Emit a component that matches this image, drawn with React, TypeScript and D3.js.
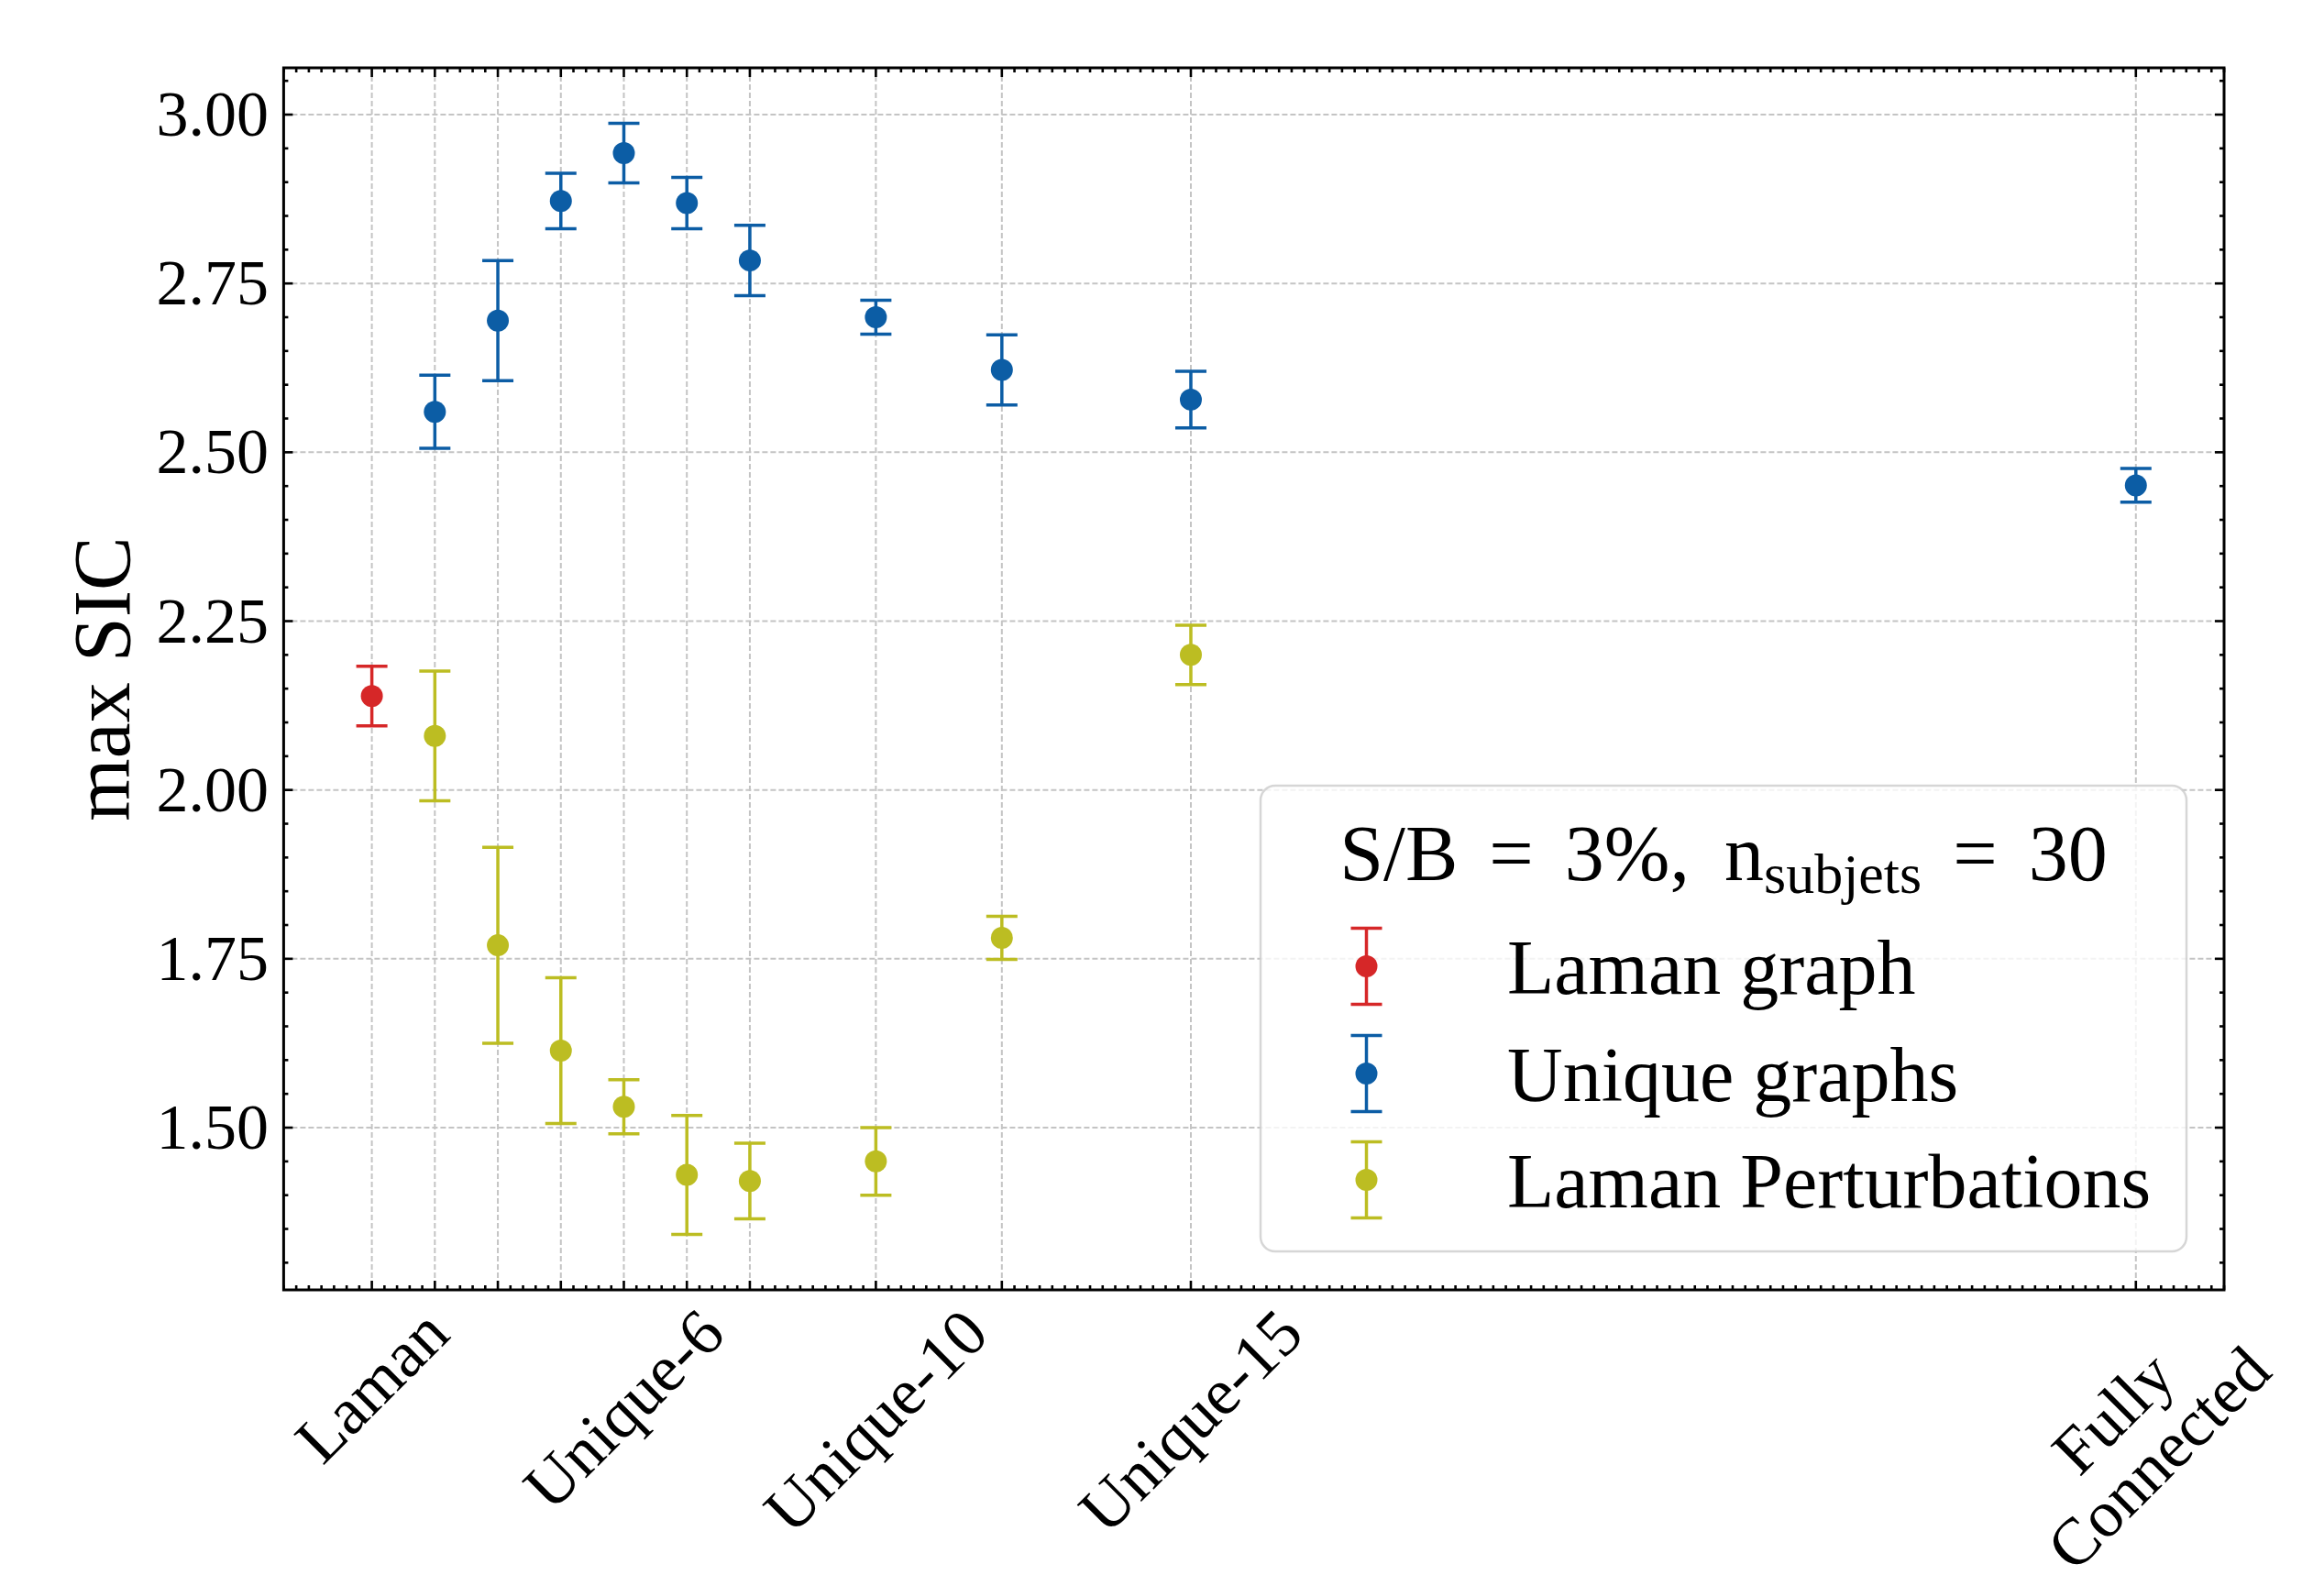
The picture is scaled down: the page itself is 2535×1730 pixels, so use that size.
import React, { useEffect, useRef } from 'react';
import * as d3 from 'd3';

// Graph construction on the x axis (number of subjets kept per node)
const tickValues = [2, 3, 4, 5, 6, 7, 8, 10, 12, 15, 30];
const tickLabels = ['Laman', '', '', '', 'Unique-6', '', '', 'Unique-10', '', 'Unique-15', 'Fully\nConnected'];

// Laman graph
const lamanX = [2];
const lamanY = [2.139];
const lamanErr = [0.044];

// Unique graphs
const uniqueX = [3, 4, 5, 6, 7, 8, 10, 12, 15, 30];
const uniqueY = [2.56, 2.695, 2.872, 2.943, 2.869, 2.784, 2.7, 2.622, 2.578, 2.451];
const uniqueErr = [0.054, 0.089, 0.041, 0.044, 0.038, 0.052, 0.025, 0.052, 0.042, 0.025];

// Laman perturbations
const pertX = [3, 4, 5, 6, 7, 8, 10, 12, 15];
const pertY = [2.08, 1.77, 1.614, 1.531, 1.43, 1.421, 1.45, 1.781, 2.2];
const pertErr = [0.096, 0.145, 0.108, 0.04, 0.088, 0.056, 0.05, 0.032, 0.044];

const seriesNames = ['Laman graph', 'Unique graphs', 'Laman Perturbations'];
const seriesColors = ['#d62728', '#0c5da5', '#bcbd22'];

const yMajorTicks = [1.5, 1.75, 2.0, 2.25, 2.5, 2.75, 3.0];
const yLabel = 'max SIC';

const W = 2535;
const H = 1730;
const FONT = '"Liberation Serif", "Times New Roman", serif';

export default function App() {
  const ref = useRef<SVGSVGElement>(null);

  useEffect(() => {
    document.body.style.margin = '0';
    document.body.style.overflow = 'hidden';
    const svg = d3.select(ref.current);
    svg.selectAll('*').remove();

    const left = 309.4, right = 2426, top = 74, bottom = 1407;

    const series = [
      { name: seriesNames[0], color: seriesColors[0], xs: lamanX, ys: lamanY, es: lamanErr },
      { name: seriesNames[1], color: seriesColors[1], xs: uniqueX, ys: uniqueY, es: uniqueErr },
      { name: seriesNames[2], color: seriesColors[2], xs: pertX, ys: pertY, es: pertErr },
    ];

    // autoscale with 5% margins
    const allX = series.flatMap(s => s.xs);
    const lo = series.flatMap(s => s.ys.map((v, i) => v - s.es[i]));
    const hi = series.flatMap(s => s.ys.map((v, i) => v + s.es[i]));
    const x0 = d3.min(allX)!, x1 = d3.max(allX)!;
    const y0 = d3.min(lo)!, y1 = d3.max(hi)!;
    const mx = (x1 - x0) * 0.05, my = (y1 - y0) * 0.05;

    const x = d3.scaleLinear().domain([x0 - mx, x1 + mx]).range([left, right]);
    const y = d3.scaleLinear().domain([y0 - my, y1 + my]).range([bottom, top]);

    svg.append('rect').attr('width', W).attr('height', H).attr('fill', '#fff');

    // grid
    const grid = svg.append('g').attr('stroke', '#c4c4c4').attr('stroke-width', 2).attr('stroke-dasharray', '6 3');
    tickValues.forEach(t => {
      grid.append('line').attr('x1', x(t)).attr('x2', x(t)).attr('y1', top).attr('y2', bottom);
    });
    yMajorTicks.forEach(t => {
      grid.append('line').attr('x1', left).attr('x2', right).attr('y1', y(t)).attr('y2', y(t));
    });

    // ticks
    const ticks = svg.append('g').attr('stroke', '#000').attr('stroke-width', 2.6);
    const [dx0, dx1] = x.domain();
    const xMinor: number[] = [];
    for (let v = Math.ceil(dx0 / 0.2) * 0.2; v <= dx1 + 1e-9; v += 0.2) {
      const r = Math.round(v * 10) / 10;
      if (!tickValues.some(t => Math.abs(t - r) < 1e-6)) xMinor.push(r);
    }
    const [dy0, dy1] = y.domain();
    const yMinor: number[] = [];
    for (let v = Math.ceil(dy0 / 0.05) * 0.05; v <= dy1 + 1e-9; v += 0.05) {
      const r = Math.round(v * 100) / 100;
      if (!yMajorTicks.some(t => Math.abs(t - r) < 1e-6)) yMinor.push(r);
    }
    const xTick = (v: number, len: number) => {
      ticks.append('line').attr('x1', x(v)).attr('x2', x(v)).attr('y1', bottom).attr('y2', bottom - len);
      ticks.append('line').attr('x1', x(v)).attr('x2', x(v)).attr('y1', top).attr('y2', top + len);
    };
    const yTick = (v: number, len: number) => {
      ticks.append('line').attr('y1', y(v)).attr('y2', y(v)).attr('x1', left).attr('x2', left + len);
      ticks.append('line').attr('y1', y(v)).attr('y2', y(v)).attr('x1', right).attr('x2', right - len);
    };
    tickValues.forEach(t => xTick(t, 10));
    xMinor.forEach(t => xTick(t, 5));
    yMajorTicks.forEach(t => yTick(t, 10));
    yMinor.forEach(t => yTick(t, 5));

    // frame
    svg.append('rect').attr('x', left).attr('y', top).attr('width', right - left).attr('height', bottom - top)
      .attr('fill', 'none').attr('stroke', '#000').attr('stroke-width', 3);

    // y tick labels
    yMajorTicks.forEach(t => {
      svg.append('text').attr('x', 293).attr('y', y(t) + 23).attr('text-anchor', 'end')
        .attr('font-family', FONT).attr('font-size', 70).text(t.toFixed(2));
    });

    // y label
    svg.append('text').attr('transform', `translate(141,${(top + bottom) / 2}) rotate(-90)`)
      .attr('text-anchor', 'middle').attr('font-family', FONT).attr('font-size', 88).text(yLabel);

    // x tick labels, rotated 45 degrees, rotated box centred under the tick
    const svgTop = (ref.current as SVGSVGElement).getBoundingClientRect().top;
    tickValues.forEach((t, i) => {
      const label = tickLabels[i];
      if (!label) return;
      const lines = label.split('\n');
      const g = svg.append('g');
      const txt = g.append('text').attr('font-family', FONT).attr('font-size', 72).attr('text-anchor', 'middle');
      lines.forEach((ln, j) => {
        txt.append('tspan').attr('x', 0).attr('dy', j === 0 ? 0 : 70).text(ln);
      });
      const bb = (txt.node() as SVGTextElement).getBBox();
      const R = (bb.width + bb.height) / Math.SQRT2;
      const place = (cy: number) =>
        g.attr('transform', `translate(${x(t)},${cy}) rotate(-45) translate(${-(bb.x + bb.width / 2)},${-(bb.y + bb.height / 2)})`);
      let cy = bottom + 6 + R / 2;
      place(cy);
      // keep the label inside the figure
      const over = (g.node() as SVGGElement).getBoundingClientRect().bottom - svgTop - (H - 2);
      if (over > 0) {
        cy -= over;
        place(cy);
      }
    });

    // error bars
    const capHalf = 17;
    series.forEach(s => {
      const g = svg.append('g');
      s.xs.forEach((xv, i) => {
        const cx = x(xv);
        const ya = y(s.ys[i] - s.es[i]);
        const yb = y(s.ys[i] + s.es[i]);
        g.append('line').attr('x1', cx).attr('x2', cx).attr('y1', ya).attr('y2', yb)
          .attr('stroke', s.color).attr('stroke-width', 3.5);
        [ya, yb].forEach(yy => {
          g.append('line').attr('x1', cx - capHalf).attr('x2', cx + capHalf).attr('y1', yy).attr('y2', yy)
            .attr('stroke', s.color).attr('stroke-width', 3.5);
        });
        g.append('circle').attr('cx', cx).attr('cy', y(s.ys[i])).attr('r', 12).attr('fill', s.color);
      });
    });

    // legend
    const lg = svg.append('g');
    lg.append('rect').attr('x', 1375).attr('y', 857).attr('width', 1010).attr('height', 508).attr('rx', 16)
      .attr('fill', '#fff').attr('fill-opacity', 0.8).attr('stroke', '#cccccc').attr('stroke-opacity', 0.8)
      .attr('stroke-width', 2.5);
    const title = lg.append('text').attr('x', 1880).attr('y', 960).attr('text-anchor', 'middle')
      .attr('font-family', FONT).attr('font-size', 86);
    const gap = 34;
    title.append('tspan').text('S/B');
    title.append('tspan').attr('dx', gap).text('=');
    title.append('tspan').attr('dx', gap).text('3%,');
    title.append('tspan').attr('dx', gap + 4).text('n');
    title.append('tspan').attr('font-size', 62).attr('dy', 14).text('subjets');
    title.append('tspan').attr('dy', -14).attr('dx', gap).text('=');
    title.append('tspan').attr('dx', gap).text('30');

    const rowY = [1054, 1171, 1287];
    series.forEach((s, i) => {
      const cy = rowY[i];
      const hx = 1490.5;
      lg.append('line').attr('x1', hx).attr('x2', hx).attr('y1', cy - 41.6).attr('y2', cy + 41.6)
        .attr('stroke', s.color).attr('stroke-width', 3.5);
      [cy - 41.6, cy + 41.6].forEach(yy => {
        lg.append('line').attr('x1', hx - capHalf).attr('x2', hx + capHalf).attr('y1', yy).attr('y2', yy)
          .attr('stroke', s.color).attr('stroke-width', 3.5);
      });
      lg.append('circle').attr('cx', hx).attr('cy', cy).attr('r', 12).attr('fill', s.color);
      lg.append('text').attr('x', 1644).attr('y', cy + 30).attr('font-family', FONT).attr('font-size', 84).text(s.name);
    });
  }, []);

  return <svg ref={ref} width={W} height={H} style={{ display: 'block' }} />;
}
